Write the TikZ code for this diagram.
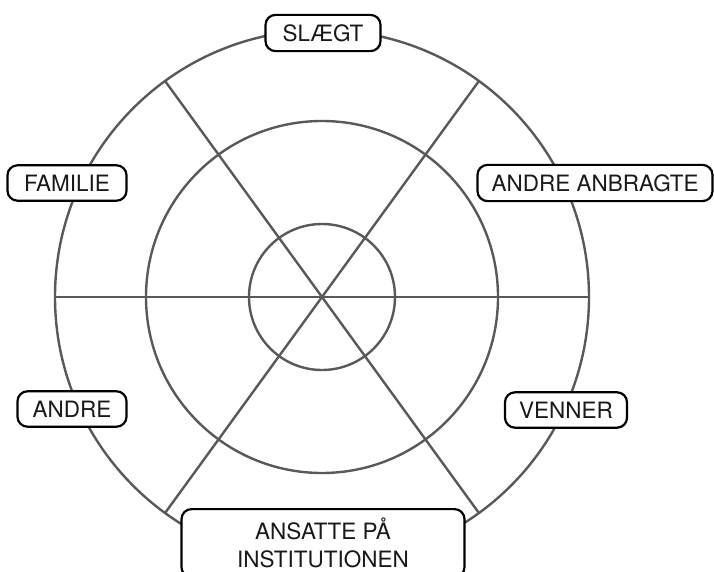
\documentclass[tikz,border=0pt]{standalone}
\usepackage{fontspec}
\setsansfont{TeX Gyre Heros}
\definecolor{ringgrey}{HTML}{595959}
\begin{document}
\begin{tikzpicture}[x=1pt, y=-1pt,
        ring/.style={draw=ringgrey, line width=2.4pt},
        spoke/.style={draw=ringgrey, line width=2.4pt},
        tag/.style={draw=black, line width=2.2pt, fill=white, rounded corners=10pt,
            font=\sffamily\fontsize{22.5}{28}\selectfont, text=black!90,
            inner xsep=10pt, inner ysep=9.5pt, align=center}]

        \useasboundingbox (0,0) rectangle (714,572);

        % ==================== Hjul: cirkler og eger ====================
        \coordinate (c) at (322,297);

        % eger gennem midten
        \draw[spoke] (c) +(180:267) -- +(0:267);
        \draw[spoke] (c) +(234:267) -- +(54:267);
        \draw[spoke] (c) +(306:267) -- +(126:267);

        % tre ringe
        \draw[ring] (c) circle[radius=267];
        \draw[ring] (c) circle[radius=176];
        \draw[ring] (c) circle[radius=73];

        % ==================== Etiketter ====================
        \node[tag, minimum width=115pt] (slaegt) at (323,33) {SLÆGT};
        \node[tag, minimum width=119pt] (familie) at (67,183) {FAMILIE};
        \node[tag, minimum width=235pt] (anbragte) at (595,183) {ANDRE ANBRAGTE};
        \node[tag, minimum width=109pt] (andre) at (72,409) {ANDRE};
        \node[tag, minimum width=122pt] (venner) at (566,410) {VENNER};
        \node[tag, anchor=north, minimum width=283pt, inner ysep=9pt] (ansatte) at (323,508) {ANSATTE PÅ\\INSTITUTIONEN};

    \end{tikzpicture}
\end{document}
